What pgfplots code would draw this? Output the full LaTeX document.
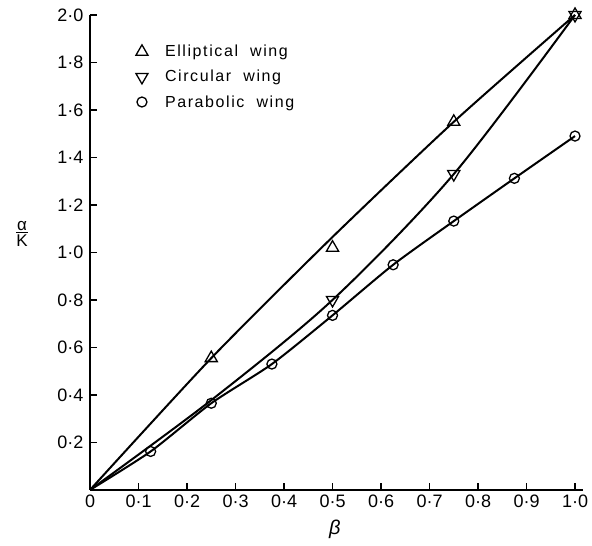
\documentclass[border=0pt]{standalone}
\usepackage{pgfplots}
\pgfplotsset{compat=1.18}
\usepackage{fontspec}
\setmainfont{Liberation Sans}
\newfontfamily\spaced[LetterSpace=10]{Liberation Sans}
\pgfplotstableread{
x y
0.25 0.555
0.5 1.02
0.75 1.55
1.0 2.0
}\ellpts
\pgfplotstableread{
x y
0 0
0.25 0.555
0.5 1.065
0.75 1.55
1.0 2.0
}\ellline
\pgfplotstableread{
x y
0.5 0.80
0.75 1.33
1.0 2.0
}\cirpts
\pgfplotstableread{
x y
0 0
0.25 0.378
0.5 0.80
0.75 1.33
1.0 2.0
}\cirline
\pgfplotstableread{
x y
0.125 0.162
0.25 0.365
0.375 0.53
0.5 0.735
0.625 0.948
0.75 1.132
0.875 1.312
1.0 1.49
}\parpts
\pgfplotstableread{
x y
0 0
0.125 0.162
0.25 0.365
0.375 0.53
0.5 0.735
0.625 0.948
0.75 1.132
0.875 1.312
1.0 1.49
}\parline
\begin{document}
\begin{tikzpicture}
\begin{axis}[
  scale only axis, width=492.8pt, height=475pt,
  xmin=0, xmax=1.016, ymin=0, ymax=2.0,
  axis lines*=left,
  axis line style={line width=1.5pt},
  clip=false,
  tick align=inside, major tick length=7pt,
  tick style={line width=1.2pt, black},
  xtick={0,0.1,0.2,0.3,0.4,0.5,0.6,0.7,0.8,0.9,1.0},
  xticklabels={0,0·1,0·2,0·3,0·4,0·5,0·6,0·7,0·8,0·9,1·0},
  ytick={0.2,0.4,0.6,0.8,1.0,1.2,1.4,1.6,1.8,2.0},
  yticklabels={0·2,0·4,0·6,0·8,1·0,1·2,1·4,1·6,1·8,2·0},
  ticklabel style={font=\fontsize{18}{20}\selectfont},
  yticklabel style={xshift=-3pt},
  xticklabel style={yshift=-1pt},
  legend style={draw=none, fill=none, at={(axis cs:0.088,1.89)}, anchor=north west,
    row sep=8pt, font=\fontsize{16}{19}\selectfont},
  legend cell align=left,
]
\addplot[black, line width=2pt, smooth, tension=0.4, forget plot] table {\ellline};
\addplot[black, line width=2pt, smooth, tension=0.5, forget plot] table {\cirline};
\addplot[black, line width=2pt, smooth, tension=0.4, forget plot] table {\parline};
\addplot[only marks, mark=triangle, mark size=7pt, mark options={fill=white, line width=1.3pt, black}] table {\ellpts};
\addlegendentry{\hspace*{15pt}\spaced Elliptical\ \ wing}
\addplot[only marks, mark=triangle, mark size=7pt, mark options={fill=white, line width=1.3pt, black, rotate=180}] table {\cirpts};
\addlegendentry{\hspace*{15pt}\spaced Circular\ \ wing}
\addplot[only marks, mark=o, mark size=5pt, mark options={fill=white, line width=1.3pt, black}] table {\parpts};
\addlegendentry{\hspace*{15pt}\spaced Parabolic\ \ wing}
\node[font=\fontsize{17}{19}\selectfont, inner sep=0pt] at (axis cs:-0.140,1.075)
  {\begin{tabular}{@{}c@{}}α\\[-4pt]\hline\rule{0pt}{13pt}K\end{tabular}};
\node[font=\fontsize{20}{22}\selectfont] at (axis cs:0.505,-0.168) {\itshape β};
\path (axis cs:-0.1856,-0.236) rectangle (axis cs:1.035,2.063);
\end{axis}
\end{tikzpicture}
\end{document}
